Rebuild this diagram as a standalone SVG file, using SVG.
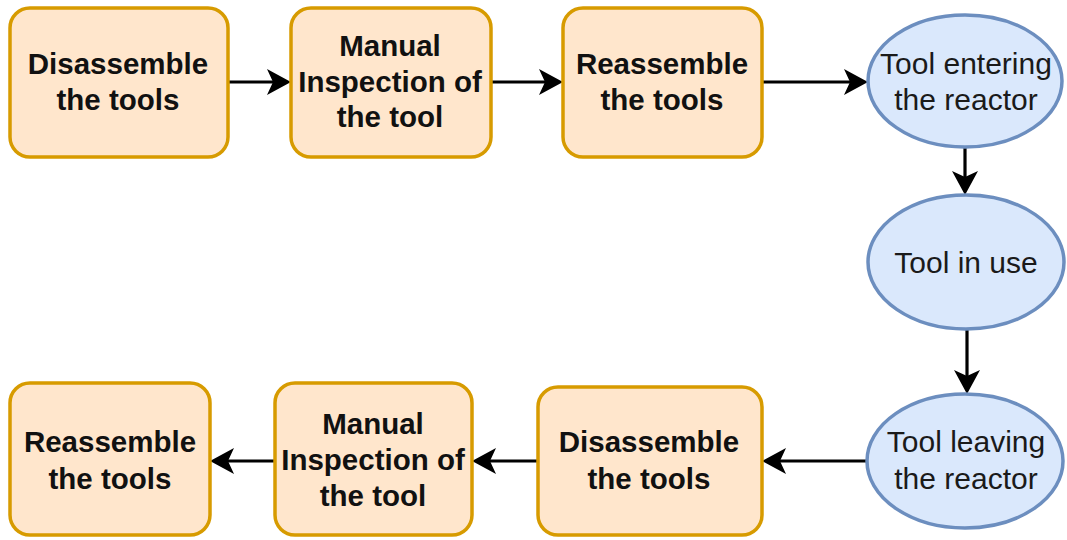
<svg xmlns="http://www.w3.org/2000/svg" width="1067" height="540" viewBox="0 0 1067 540">
  <defs>
    <style>
      .box { fill: #ffe6cc; stroke: #d79b00; stroke-width: 3.5; }
      .oval { fill: #dae8fc; stroke: #6c8ebf; stroke-width: 3.5; }
      .lbl { font-family: "Liberation Sans", Arial, sans-serif; font-size: 30px; text-anchor: middle; fill: #1a1a1a; }
      .b { font-weight: bold; font-size: 29.5px; fill: #111; }
      .edge { fill: none; stroke: #000; stroke-width: 3.2; }
    </style>
    <marker id="arrow" markerUnits="userSpaceOnUse" viewBox="0 0 24 26" refX="6" refY="13" markerWidth="24" markerHeight="26" orient="auto">
      <path d="M0,0 L24,13 L0,26 L6,13 Z" fill="#000"/>
    </marker>
  </defs>

  <rect width="1067" height="540" fill="#fff"/>

  <g id="connectors">
    <path class="edge" d="M228,82 L273,82" marker-end="url(#arrow)"/>
    <path class="edge" d="M491,82 L545,82" marker-end="url(#arrow)"/>
    <path class="edge" d="M762,82 L850,82" marker-end="url(#arrow)"/>
    <path class="edge" d="M965,147 L965,177" marker-end="url(#arrow)"/>
    <path class="edge" d="M967,329 L967,376" marker-end="url(#arrow)"/>
    <path class="edge" d="M867,461 L780,461" marker-end="url(#arrow)"/>
    <path class="edge" d="M538,461 L490,461" marker-end="url(#arrow)"/>
    <path class="edge" d="M275,461 L228,461" marker-end="url(#arrow)"/>
  </g>

  <g id="disassemble-top">
    <rect class="box" x="10" y="8" width="218" height="149" rx="20"/>
    <text class="lbl b" x="118" y="74">Disassemble</text>
    <text class="lbl b" x="118" y="110">the tools</text>
  </g>

  <g id="inspection-top">
    <rect class="box" x="291" y="8" width="200" height="149" rx="20"/>
    <text class="lbl b" x="390" y="56">Manual</text>
    <text class="lbl b" x="390" y="92">Inspection of</text>
    <text class="lbl b" x="390" y="127">the tool</text>
  </g>

  <g id="reassemble-top">
    <rect class="box" x="563" y="8" width="199" height="149" rx="20"/>
    <text class="lbl b" x="662" y="74">Reassemble</text>
    <text class="lbl b" x="662" y="110">the tools</text>
  </g>

  <g id="entering">
    <ellipse class="oval" cx="965" cy="81" rx="97" ry="66"/>
    <text class="lbl" x="966" y="74">Tool entering</text>
    <text class="lbl" x="966" y="110">the reactor</text>
  </g>

  <g id="in-use">
    <ellipse class="oval" cx="966" cy="262" rx="98" ry="67"/>
    <text class="lbl" x="966" y="273">Tool in use</text>
  </g>

  <g id="leaving">
    <ellipse class="oval" cx="965" cy="461" rx="98" ry="67"/>
    <text class="lbl" x="966" y="452">Tool leaving</text>
    <text class="lbl" x="966" y="489">the reactor</text>
  </g>

  <g id="disassemble-bottom">
    <rect class="box" x="538" y="387" width="224" height="148" rx="20"/>
    <text class="lbl b" x="649" y="452">Disassemble</text>
    <text class="lbl b" x="649" y="489">the tools</text>
  </g>

  <g id="inspection-bottom">
    <rect class="box" x="275" y="383" width="197" height="152" rx="20"/>
    <text class="lbl b" x="373" y="434">Manual</text>
    <text class="lbl b" x="373" y="470">Inspection of</text>
    <text class="lbl b" x="373" y="506">the tool</text>
  </g>

  <g id="reassemble-bottom">
    <rect class="box" x="10" y="383" width="200" height="152" rx="20"/>
    <text class="lbl b" x="110" y="452">Reassemble</text>
    <text class="lbl b" x="110" y="489">the tools</text>
  </g>
</svg>
